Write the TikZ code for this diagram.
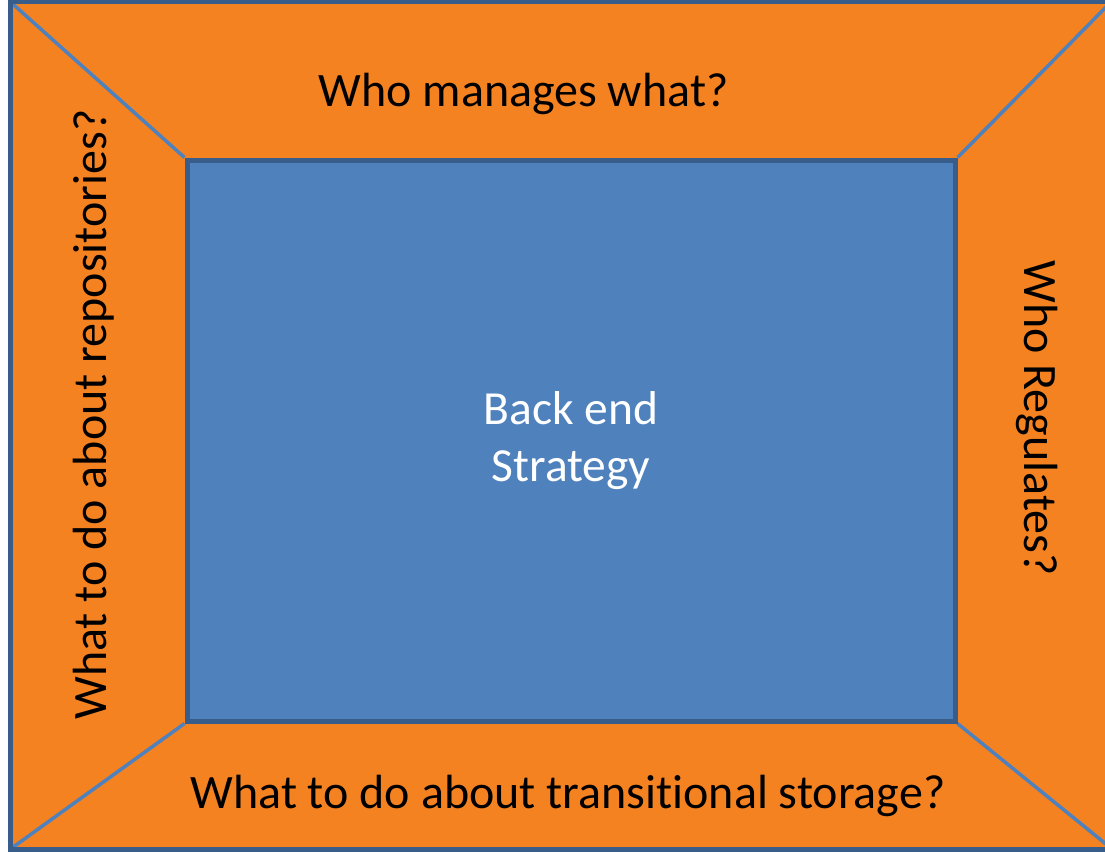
\documentclass[tikz,border=0pt]{standalone}
\usepackage{fontspec}
\setmainfont{Carlito}[Ligatures=NoCommon]
\definecolor{frameorange}{RGB}{245,130,32}
\definecolor{darkblue}{RGB}{56,93,138}
\definecolor{midblue}{RGB}{79,129,189}
\definecolor{lineblue}{RGB}{79,129,189}
\tikzset{
  lbl/.style={font=\fontsize{48}{58}\selectfont, text=black, inner sep=0pt, anchor=base},
  diag/.style={draw=lineblue, line width=3.5pt},
}
\begin{document}
\begin{tikzpicture}[x=1pt,y=-1pt]
\useasboundingbox (0,0) rectangle (1105,851);
\clip (0,0) rectangle (1105,851);
\fill[white] (0,0) rectangle (1105,851);
% outer frame
\coordinate (otl) at (10.5,2);
\coordinate (otr) at (1111,2);
\coordinate (obr) at (1112,849);
\coordinate (obl) at (10.5,849);
\fill[frameorange] (otl) rectangle (obr);
% inner box
\node[draw=darkblue, fill=midblue, line width=5pt, minimum width=768pt, minimum height=561pt,
      inner sep=0pt, align=center, text=white, font=\fontsize{47.5}{57}\selectfont]
  (inner) at (571,440.5) {Back end\\Strategy};
% diagonals
\draw[diag] (otl) -- (inner.north west);
\draw[diag] (obl) -- (inner.south west);
\draw[diag] (otr) -- (inner.north east);
\draw[diag] (obr) -- (inner.south east);
\draw[darkblue, line width=5pt] (otl) rectangle (obr);
\node[draw=darkblue, line width=5pt, minimum width=768pt, minimum height=561pt] (innerborder) at (inner.center) {};
% labels
\node[lbl] (top) at (523.5,106) {Who manages what?};
\node[lbl] (bottom) at (568,808) {What to do about transitional storage?};
\node[lbl, rotate=90] (left) at (106,414.5) {What to do about repositories?};
\node[lbl, rotate=-90] (right) at (1024,418) {Who Regulates?};
\end{tikzpicture}
\end{document}
